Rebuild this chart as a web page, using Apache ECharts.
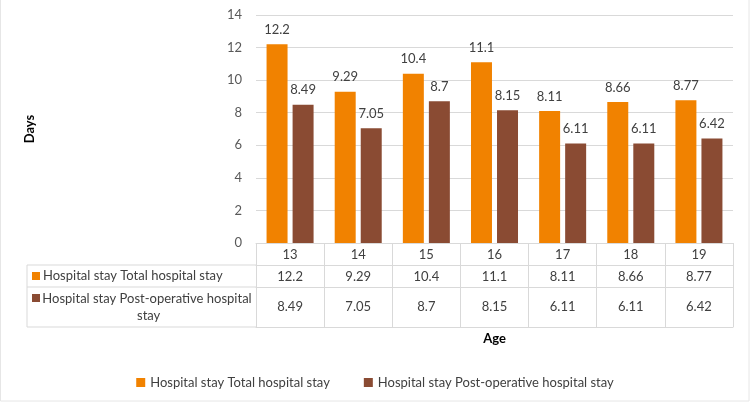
<!DOCTYPE html>
<html>
<head>
<meta charset="utf-8">
<script src="https://cdn.jsdelivr.net/npm/echarts@6/dist/echarts.min.js"></script>
<style>
  html, body { margin: 0; padding: 0; background: #fff; }
  #main { width: 750px; height: 402px; }
</style>
</head>
<body>
<div id="main"></div>
<script>
const ages = ["13", "14", "15", "16", "17", "18", "19"];
const totalStay = [12.2, 9.29, 10.4, 11.1, 8.11, 8.66, 8.77];
const postOpStay = [8.49, 7.05, 8.7, 8.15, 6.11, 6.11, 6.42];
const seriesNames = ["Hospital stay Total hospital stay", "Hospital stay Post-operative hospital stay"];
const colors = ["#F18200", "#8A4B33"];
const yTicks = { min: 0, max: 14, interval: 2 };

const font = "Lato, 'Open Sans', sans-serif";
const lineColor = "#D9D9D9";
const textColor = "#404040";

function tableAxis(data, offset, margin) {
  return {
    type: "category",
    data: data.map(String),
    position: "bottom",
    offset: offset,
    axisLine: { lineStyle: { color: lineColor } },
    axisTick: { show: false },
    axisLabel: { color: textColor, fontSize: 13, fontFamily: font, margin: margin, interval: 0 },
  };
}

function chartOption() {
  // bottom line of the data table, carries the "Age" title
  const rowAxis3 = tableAxis(ages.map(() => ""), 84, 0);
  rowAxis3.axisLabel.show = false;
  rowAxis3.name = "Age";
  rowAxis3.nameLocation = "middle";
  rowAxis3.nameGap = 5;
  rowAxis3.nameTextStyle = { fontWeight: "bold", fontSize: 13, color: "#000", fontFamily: font, verticalAlign: "top" };

  return {
    animation: false,
    textStyle: { fontFamily: font },
    grid: { left: 256, right: 17, top: 15, bottom: 159 },
    legend: {
      data: seriesNames,
      top: 371,
      left: "center",
      icon: "rect",
      itemWidth: 9,
      itemHeight: 9,
      itemGap: 34,
      textStyle: { color: textColor, fontSize: 13, fontFamily: font },
    },
    xAxis: [
      {
        type: "category",
        data: ages,
        axisLine: { lineStyle: { color: lineColor } },
        axisTick: { show: true, interval: 0, length: 84, lineStyle: { color: lineColor } },
        axisLabel: { color: textColor, fontSize: 13, fontFamily: font, margin: 5 },
      },
      tableAxis(totalStay, 22, 5),
      tableAxis(postOpStay, 44, 13),
      rowAxis3,
    ],
    yAxis: {
      type: "value",
      min: yTicks.min,
      max: yTicks.max,
      interval: yTicks.interval,
      axisLine: { show: false },
      axisTick: { show: false },
      splitLine: { lineStyle: { color: lineColor } },
      axisLabel: { color: "#595959", fontSize: 13, fontFamily: font, margin: 14 },
      name: "Days",
      nameLocation: "middle",
      nameRotate: 90,
      nameGap: 220,
      nameTextStyle: { fontWeight: "bold", fontSize: 13, color: "#000", fontFamily: font },
    },
    series: [
      {
        name: seriesNames[0],
        type: "bar",
        data: totalStay,
        barGap: "24%",
        barCategoryGap: "31%",
        itemStyle: { color: colors[0] },
        label: { show: true, position: "top", distance: 8, color: textColor, fontSize: 13, fontFamily: font },
      },
      {
        name: seriesNames[1],
        type: "bar",
        data: postOpStay,
        itemStyle: { color: colors[1] },
        label: { show: true, position: "top", distance: 8, color: textColor, fontSize: 13, fontFamily: font },
      },
    ],
    graphic: [
      { type: "rect", shape: { x: 0.5, y: -2, width: 748.5, height: 403 }, style: { fill: "none", stroke: "#E6E6E6" } },
      { type: "line", shape: { x1: 27, y1: 265, x2: 256, y2: 265 }, style: { stroke: lineColor } },
      { type: "line", shape: { x1: 27, y1: 287, x2: 256, y2: 287 }, style: { stroke: lineColor } },
      { type: "line", shape: { x1: 27, y1: 327, x2: 256, y2: 327 }, style: { stroke: lineColor } },
      { type: "line", shape: { x1: 27, y1: 265, x2: 27, y2: 327 }, style: { stroke: lineColor } },
      { type: "rect", shape: { x: 32, y: 272, width: 8, height: 8 }, style: { fill: colors[0] } },
      { type: "rect", shape: { x: 32, y: 294, width: 8, height: 8 }, style: { fill: colors[1] } },
      {
        type: "text", x: 43, y: 276,
        style: { text: seriesNames[0], fill: textColor, fontSize: 13, fontFamily: font, verticalAlign: "middle" },
      },
      {
        type: "text", x: 147, y: 290,
        style: {
          text: seriesNames[1], fill: textColor, fontSize: 13, fontFamily: font,
          align: "center", width: 212, overflow: "break", lineHeight: 17,
        },
      },
    ],
  };
}

function onLoad() {
  const chart = echarts.init(document.getElementById("main"));
  chart.setOption(chartOption());
}

addEventListener("load", onLoad);
</script>
</body>
</html>
